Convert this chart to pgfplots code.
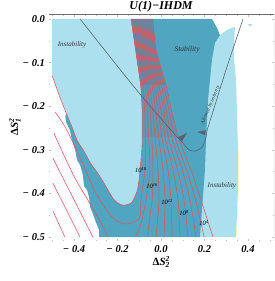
\documentclass[border=0pt]{standalone}
\usepackage{fontspec}
\setmainfont{Liberation Serif}
\usepackage{pgfplots}
\pgfplotsset{compat=1.18}
\definecolor{lt}{RGB}{173,224,238}
\definecolor{dk}{RGB}{80,165,192}
\definecolor{rd}{RGB}{232,80,95}
\definecolor{gl}{RGB}{85,100,110}
\begin{document}
\begin{tikzpicture}
\path[use as bounding box] (0pt,0pt) rectangle (275pt,281pt);
\begin{axis}[at={(48.5pt,40pt)},anchor=south west,scale only axis,width=225.5pt,height=226.5pt,
 xmin=-0.5172,xmax=0.5195,ymin=-0.509,ymax=0.0103,
 axis line style={draw=none},
 xtick={-0.4,-0.2,0,0.2,0.4},xticklabels={{−\;0.4},{−\;0.2},0.0,0.2,0.4},
 ytick={-0.5,-0.4,-0.3,-0.2,-0.1,0},yticklabels={{−\;0.5},{−\;0.4},{−\;0.3},{−\;0.2},{−\;0.1},0.0},
 minor xtick={-0.5,-0.45,-0.35,-0.3,-0.25,-0.15,-0.1,-0.05,0.05,0.1,0.15,0.25,0.3,0.35,0.45,0.5},
 minor ytick={-0.45,-0.35,-0.25,-0.15,-0.05},
 tick style={draw=gray!50,line width=0.4pt},major tick length=2.2pt,minor tick length=1.2pt,
 tick align=inside,
 ticklabel style={font=\fontsize{10.5}{11}\selectfont\bfseries\itshape},
 xticklabel style={yshift=-1pt},yticklabel style={xshift=0pt}]
% right light region
\addplot[fill=lt,draw=none] coordinates {(.340,-.018)(.336,-.055)(.336,-.094)(.345,-.140)(.349,-.209)(.354,-.300)(.354,-.392)(.345,-.5)(.170,-.5)(.170,-.186)(.200,-.060)(.271,-.037)(.303,-.025)} --cycle;
\addplot[draw=yellow!35,line width=0.4pt] coordinates {(.356,-.30)(.356,-.392)(.347,-.5)};
\addplot[fill=lt,draw=none] coordinates {(.400,-.012)(.420,-.012)(.410,-.018)} --cycle;
% dark region
\addplot[fill=dk,draw=none] coordinates {(-.138,0)(.234,0)(.258,-.021)(.271,-.037)(.248,-.055)(.234,-.094)(.225,-.140)(.216,-.186)(.207,-.277)(.202,-.346)(.179,-.5)(-.285,-.5)(-.285,-.484)(-.303,-.461)(-.313,-.447)(-.326,-.431)(-.331,-.408)(-.340,-.392)(-.354,-.383)(-.359,-.358)(-.372,-.335)(-.386,-.323)(-.395,-.300)(-.409,-.278)(-.419,-.255)(-.437,-.236)(-.440,-.222)} --cycle;
% left light region
\addplot[fill=lt,draw=none] coordinates {(-.5,0)(-.5,-.13)(-.465,-.179)(-.432,-.220)(-.409,-.248)(-.386,-.278)(-.354,-.303)(-.327,-.328)(-.294,-.351)(-.267,-.372)(-.221,-.411)(-.198,-.422)(-.175,-.427)(-.152,-.425)(-.133,-.420)(-.110,-.395)(-.101,-.369)(-.097,-.346)(-.090,-.312)(-.087,-.284)(-.087,-.209)(-.094,-.151)(-.117,-.071)(-.138,0)} --cycle;
% density of the crowded contour band
\addplot[fill=rd!75!black,draw=none,opacity=0.3] coordinates {(-.138,0)(-.037,0)(-.023,-.071)(.023,-.151)(-.094,-.151)(-.117,-.071)} --cycle;
\addplot[fill=rd!75!black,draw=none,opacity=0.12] coordinates {(-.094,-.151)(.023,-.151)(.048,-.209)(.080,-.271)(-.087,-.271)(-.087,-.209)} --cycle;
% red contours
\addplot[rd,line width=0.55pt,smooth] coordinates {(-.5,-.13)(-.465,-.179)(-.432,-.220)(-.409,-.248)(-.386,-.278)(-.354,-.303)(-.327,-.328)(-.294,-.351)(-.267,-.372)(-.221,-.411)(-.198,-.422)(-.175,-.427)(-.152,-.425)(-.133,-.420)(-.110,-.395)(-.101,-.369)(-.097,-.346)(-.090,-.312)(-.087,-.284)(-.087,-.209)(-.094,-.151)(-.117,-.071)(-.138,0)};
\addplot[rd,line width=0.55pt,smooth] coordinates {(-.487,-.213)(-.446,-.243)(-.409,-.278)(-.372,-.319)(-.294,-.404)(-.221,-.456)(-.166,-.470)(-.129,-.466)(-.097,-.454)(-.092,-.415)(-.074,-.346)(-.072,-.271)(-.075,-.209)(-.084,-.151)(-.109,-.071)(-.129,0)};
\addplot[rd,line width=0.55pt,smooth] coordinates {(-.492,-.261)(-.478,-.278)(-.395,-.365)(-.290,-.454)(-.244,-.5)};
\addplot[rd,line width=0.55pt,smooth] coordinates {(-.120,-.5)(-.097,-.479)(-.069,-.415)(-.051,-.346)(-.057,-.271)(-.063,-.209)(-.073,-.151)(-.100,-.071)(-.120,0)};
\addplot[rd,line width=0.55pt] coordinates {(-.497,-.319)(-.313,-.5)};
\addplot[rd,line width=0.55pt] coordinates {(-.497,-.376)(-.372,-.5)};
\addplot[rd,line width=0.55pt] coordinates {(-.497,-.440)(-.442,-.5)};
\addplot[rd,line width=0.55pt,smooth] coordinates {(-.110,0)(-.091,-.071)(-.063,-.151)(-.050,-.209)(-.042,-.271)(-.037,-.346)(-.041,-.415)(-.064,-.5)};
\addplot[rd,line width=0.55pt,smooth] coordinates {(-.101,0)(-.083,-.071)(-.052,-.151)(-.038,-.209)(-.027,-.271)(-.014,-.346)(-.009,-.415)(-.023,-.5)};
\addplot[rd,line width=0.55pt,smooth] coordinates {(-.092,0)(-.074,-.071)(-.041,-.151)(-.025,-.209)(-.011,-.271)(.009,-.346)(.018,-.415)(.014,-.5)};
\addplot[rd,line width=0.55pt,smooth] coordinates {(-.083,0)(-.066,-.071)(-.031,-.151)(-.013,-.209)(.004,-.271)(.032,-.346)(.046,-.415)(.051,-.5)};
\addplot[rd,line width=0.55pt,smooth] coordinates {(-.074,0)(-.057,-.071)(-.020,-.151)(0,-.209)(.019,-.271)(.055,-.346)(.078,-.415)(.087,-.5)};
\addplot[rd,line width=0.55pt,smooth] coordinates {(-.064,0)(-.049,-.071)(-.010,-.151)(.012,-.209)(.034,-.271)(.076,-.346)(.106,-.415)(.124,-.5)};
\addplot[rd,line width=0.55pt,smooth] coordinates {(-.055,0)(-.040,-.071)(.001,-.151)(.024,-.209)(.049,-.271)(.097,-.346)(.133,-.415)(.161,-.5)};
\addplot[rd,line width=0.55pt,smooth] coordinates {(-.046,0)(-.032,-.071)(.011,-.151)(.037,-.209)(.064,-.271)(.117,-.346)(.159,-.415)(.198,-.5)};
\addplot[rd,line width=0.55pt,smooth] coordinates {(-.037,0)(-.023,-.071)(.023,-.151)(.048,-.209)(.080,-.271)(.138,-.346)(.184,-.415)(.239,-.5)};
% arrowed curve
\addplot[gl,line width=0.6pt,smooth] coordinates {(-.372,0)(-.120,-.158)(.078,-.273)};
\addplot[gl,line width=0.6pt,smooth] coordinates {(.078,-.273)(.101,-.284)(.120,-.296)(.138,-.302)(.156,-.303)(.175,-.299)(.189,-.294)(.202,-.280)(.207,-.271)(.212,-.255)};
\addplot[gl,line width=0.6pt] coordinates {(.212,-.255)(.303,-.110)(.377,0)};
\addplot[fill=gl,draw=none] coordinates {(.120,-.261)(.078,-.271)(.097,-.280)} --cycle;
\addplot[fill=gl,draw=none] coordinates {(.166,-.259)(.207,-.255)(.202,-.266)} --cycle;
\draw[gray!85!black,line width=0.7pt] (rel axis cs:0,1)--(rel axis cs:1,1)--(rel axis cs:1,0);
\tikzset{lab/.style={font=\fontsize{7}{8}\selectfont\itshape,text=black!80,inner sep=0pt}}
\node[lab] at (axis cs:-.409,-.060) {Instability};
\node[lab,font=\fontsize{7.5}{8}\selectfont\itshape] at (axis cs:.120,-.071) {Stability};
\node[lab] at (axis cs:.280,-.383) {Instability};
\node[lab,rotate=67,font=\fontsize{5}{6}\selectfont\itshape] at (axis cs:.228,-.197) {Allowed by unitarity};
\tikzset{cl/.style={font=\fontsize{6.5}{7}\selectfont\itshape,text=black,inner sep=0pt}}
\node[cl] at (axis cs:-.092,-.346) {10\textsuperscript{18}};
\node[cl] at (axis cs:-.041,-.383) {10\textsuperscript{16}};
\node[cl] at (axis cs:.028,-.420) {10\textsuperscript{12}};
\node[cl] at (axis cs:.106,-.445) {10\textsuperscript{8}};
\node[cl] at (axis cs:.198,-.468) {10\textsuperscript{4}};
\end{axis}
\newcommand{\dS}[1]{{\upshape Δ}S\rlap{\raisebox{-2.5pt}{\fontsize{7.5}{8}\selectfont #1}}\raisebox{4pt}{\fontsize{7.5}{8}\selectfont 2}}
\node[font=\fontsize{12}{13}\selectfont\bfseries\itshape,inner sep=0pt] at (161pt,274pt) {U(1)−IHDM};
\node[font=\fontsize{11}{12}\selectfont\bfseries\itshape,inner sep=0pt] at (161pt,19pt) {\dS{2}};
\node[font=\fontsize{11}{12}\selectfont\bfseries\itshape,inner sep=0pt,rotate=90] at (15pt,154pt) {\dS{1}};
\end{tikzpicture}
\end{document}
